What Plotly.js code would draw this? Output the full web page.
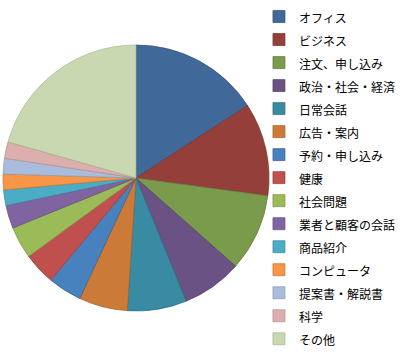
<!DOCTYPE html>
<html><head><meta charset="utf-8">
<script src="https://cdn.plot.ly/plotly-3.0.1.min.js"></script>
<style>html,body{margin:0;padding:0;background:#fff}#chart{width:404px;height:356px}</style>
</head><body><div id="chart"></div>
<script>
const categories = ["オフィス","ビジネス","注文、申し込み","政治・社会・経済","日常会話","広告・案内","予約・申し込み","健康","社会問題","業者と顧客の会話","商品紹介","コンピュータ","提案書・解説書","科学","その他"];
const values = [15.8, 11.3, 9.4, 7.3, 7.2, 5.9, 4.1, 3.9, 3.9, 2.8, 1.9, 1.9, 1.9, 2.0, 20.6];
const colors = ["#406899","#953F3A","#7A9B4B","#6A5284","#388BA3","#CC7A37","#4781BE","#C0504D","#9BBB59","#8064A2","#4BACC6","#F79646","#A9BCDC","#DCAEAE","#C9D8B0"];
const borders = ["#2F5078","#74302C","#5E7A38","#513F66","#2A6C80","#A35F29","#365F8F","#963C3A","#7A9445","#624D7E","#3A8699","#C47535","#8A9BB8","#B68C8C","#A5B48F"];

const legendLabels = categories.map(c => '<span style="font-size:12px">' + c + '</span>');

Plotly.newPlot('chart', [{
  type: 'pie',
  labels: legendLabels,
  values: values,
  sort: false,
  direction: 'clockwise',
  rotation: 0,
  textinfo: 'none',
  hoverinfo: 'none',
  marker: {colors: colors, line: {color: borders, width: 0.7}},
  domain: {x: [0.0074, 0.666], y: [0.1264, 0.8736]}
}], {
  width: 404, height: 356,
  margin: {l: 0, r: 0, t: 0, b: 0},
  paper_bgcolor: '#fff',
  showlegend: true,
  legend: {x: 0.641, y: 1.0, xanchor: 'left', yanchor: 'top',
    font: {family: 'Noto Sans CJK JP', size: 15.4, color: '#000'},
    bgcolor: 'rgba(0,0,0,0)', traceorder: 'normal', borderwidth: 0}
}, {staticPlot: true, displayModeBar: false});
</script></body></html>
